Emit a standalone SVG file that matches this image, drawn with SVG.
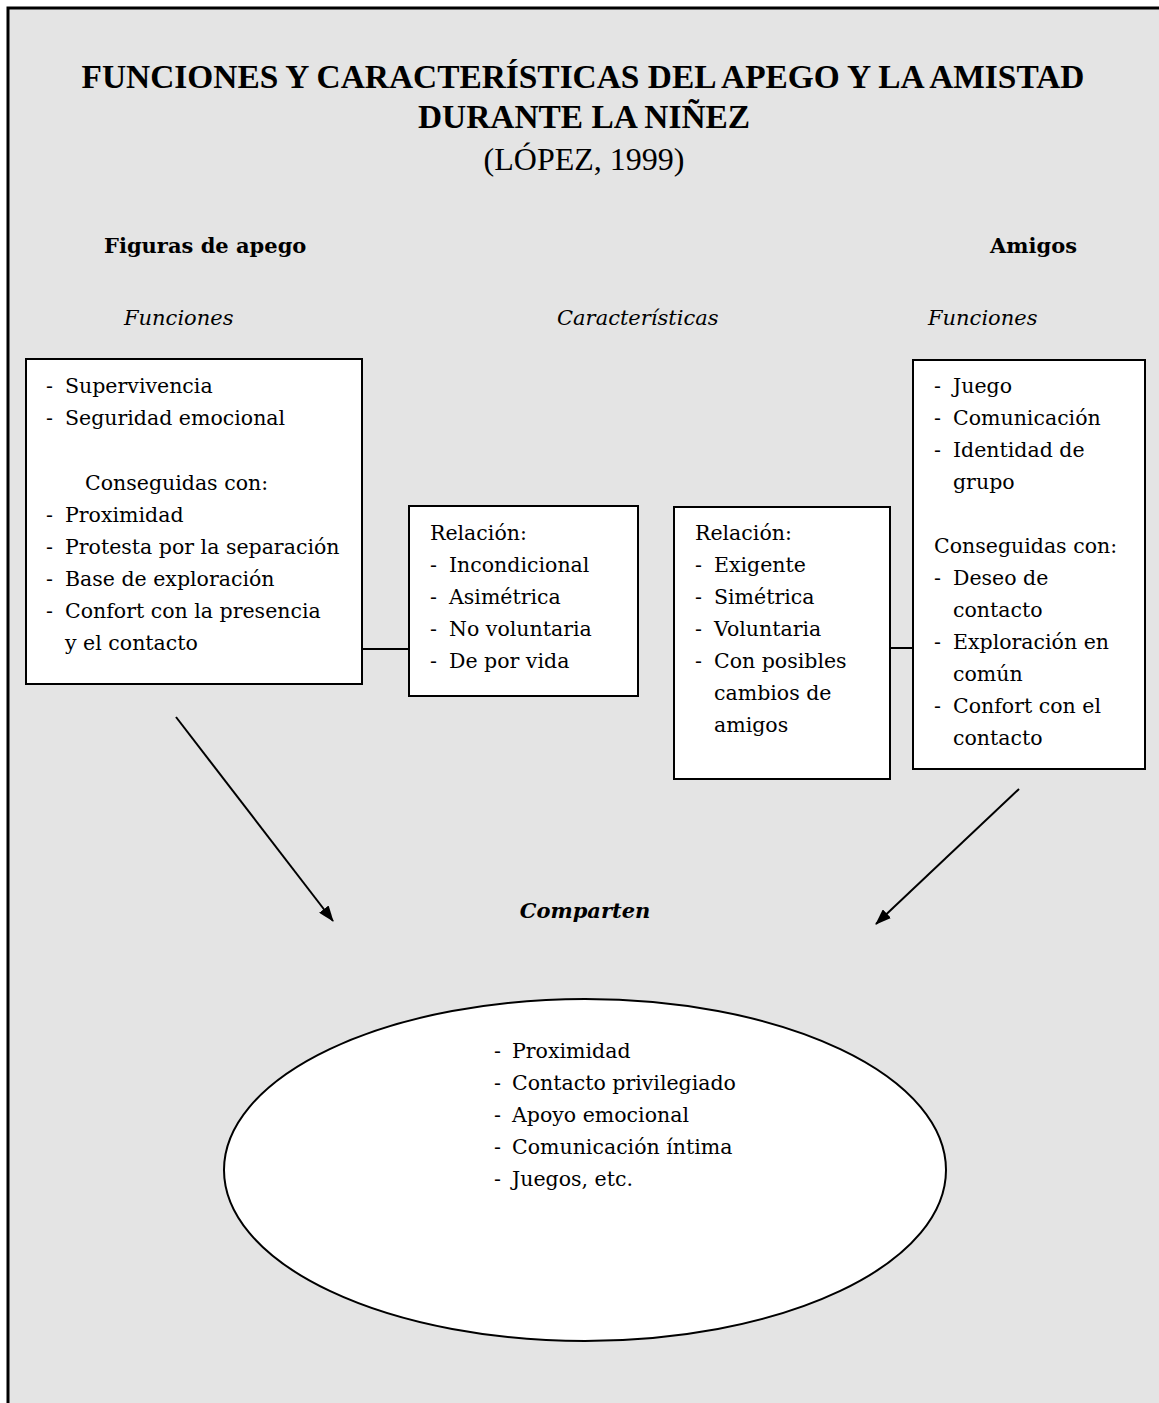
<svg xmlns="http://www.w3.org/2000/svg" width="1159" height="1403" viewBox="0 0 1159 1403">
  <style>
    .t { font-family: "DejaVu Serif", "Liberation Serif", serif; fill: #000; }
    .title { font-family: "Liberation Serif", "DejaVu Serif", serif; font-size: 33.4px; font-weight: bold; }
    .sub { font-family: "Liberation Serif", "DejaVu Serif", serif; font-size: 32px; }
    .head { font-size: 21px; font-weight: bold; }
    .ital { font-size: 21px; font-style: italic; }
    .body { font-size: 20.5px; }
    .box { fill: #fff; stroke: #000; stroke-width: 2; }
    .wire { stroke: #000; stroke-width: 2; fill: none; }
    .arrow { stroke: #000; stroke-width: 2; fill: none; marker-end: url(#head); }
  </style>
  <defs>
    <marker id="head" viewBox="0 0 16 12" refX="15" refY="6" markerWidth="16" markerHeight="12" markerUnits="userSpaceOnUse" orient="auto">
      <path d="M0,0 L16,6 L0,12 Z" fill="#000"/>
    </marker>
  </defs>

  <!-- page -->
  <rect x="0" y="0" width="1159" height="1403" fill="#fff"/>
  <rect x="8" y="8" width="1160" height="1410" fill="#e4e4e4" stroke="#000" stroke-width="3"/>

  <!-- headings -->
  <g id="titulo">
    <text class="t title" x="583" y="88" text-anchor="middle">FUNCIONES Y CARACTERÍSTICAS DEL APEGO Y LA AMISTAD</text>
    <text class="t title" x="584" y="128" text-anchor="middle">DURANTE LA NIÑEZ</text>
    <text class="t sub" x="584" y="170" text-anchor="middle">(LÓPEZ, 1999)</text>
  </g>
  <g id="encabezados">
    <text class="t head" x="104" y="253">Figuras de apego</text>
    <text class="t head" x="1077" y="253" text-anchor="end">Amigos</text>
    <text class="t ital" x="124" y="325">Funciones</text>
    <text class="t ital" x="557" y="325">Características</text>
    <text class="t ital" x="928" y="325">Funciones</text>
  </g>

  <!-- connectors -->
  <g id="conectores">
    <line class="wire" x1="362" y1="649" x2="409" y2="649"/>
    <line class="wire" x1="890" y1="648" x2="913" y2="648"/>
    <line class="arrow" x1="176" y1="717" x2="333" y2="921"/>
    <line class="arrow" x1="1019" y1="789" x2="876" y2="924"/>
  </g>

  <!-- attachment figures: functions -->
  <g id="funciones-apego">
    <rect class="box" x="26" y="359" width="336" height="325"/>
    <g class="t body">
      <text x="46" y="393">-</text><text x="65" y="393">Supervivencia</text>
      <text x="46" y="425">-</text><text x="65" y="425">Seguridad emocional</text>
      <text x="85" y="490">Conseguidas con:</text>
      <text x="46" y="522">-</text><text x="65" y="522">Proximidad</text>
      <text x="46" y="554">-</text><text x="65" y="554">Protesta por la separación</text>
      <text x="46" y="586">-</text><text x="65" y="586">Base de exploración</text>
      <text x="46" y="618">-</text><text x="65" y="618">Confort con la presencia</text>
      <text x="65" y="650">y el contacto</text>
    </g>
  </g>

  <!-- attachment: characteristics -->
  <g id="caracteristicas-apego">
    <rect class="box" x="409" y="506" width="229" height="190"/>
    <g class="t body">
      <text x="430" y="540">Relación:</text>
      <text x="430" y="572">-</text><text x="449" y="572">Incondicional</text>
      <text x="430" y="604">-</text><text x="449" y="604">Asimétrica</text>
      <text x="430" y="636">-</text><text x="449" y="636">No voluntaria</text>
      <text x="430" y="668">-</text><text x="449" y="668">De por vida</text>
    </g>
  </g>

  <!-- friendship: characteristics -->
  <g id="caracteristicas-amistad">
    <rect class="box" x="674" y="507" width="216" height="272"/>
    <g class="t body">
      <text x="695" y="540">Relación:</text>
      <text x="695" y="572">-</text><text x="714" y="572">Exigente</text>
      <text x="695" y="604">-</text><text x="714" y="604">Simétrica</text>
      <text x="695" y="636">-</text><text x="714" y="636">Voluntaria</text>
      <text x="695" y="668">-</text><text x="714" y="668">Con posibles</text>
      <text x="714" y="700">cambios de</text>
      <text x="714" y="732">amigos</text>
    </g>
  </g>

  <!-- friendship: functions -->
  <g id="funciones-amistad">
    <rect class="box" x="913" y="360" width="232" height="409"/>
    <g class="t body">
      <text x="934" y="393">-</text><text x="953" y="393">Juego</text>
      <text x="934" y="425">-</text><text x="953" y="425">Comunicación</text>
      <text x="934" y="457">-</text><text x="953" y="457">Identidad de</text>
      <text x="953" y="489">grupo</text>
      <text x="934" y="553">Conseguidas con:</text>
      <text x="934" y="585">-</text><text x="953" y="585">Deseo de</text>
      <text x="953" y="617">contacto</text>
      <text x="934" y="649">-</text><text x="953" y="649">Exploración en</text>
      <text x="953" y="681">común</text>
      <text x="934" y="713">-</text><text x="953" y="713">Confort con el</text>
      <text x="953" y="745">contacto</text>
    </g>
  </g>

  <!-- shared features -->
  <g id="comparten">
    <text class="t ital" x="585" y="918" text-anchor="middle" font-weight="bold">Comparten</text>
    <ellipse class="box" cx="585" cy="1170" rx="361" ry="171" stroke-width="1.5"/>
    <g class="t body">
      <text x="494" y="1058">-</text><text x="512" y="1058">Proximidad</text>
      <text x="494" y="1090">-</text><text x="512" y="1090">Contacto privilegiado</text>
      <text x="494" y="1122">-</text><text x="512" y="1122">Apoyo emocional</text>
      <text x="494" y="1154">-</text><text x="512" y="1154">Comunicación íntima</text>
      <text x="494" y="1186">-</text><text x="512" y="1186">Juegos, etc.</text>
    </g>
  </g>
</svg>
